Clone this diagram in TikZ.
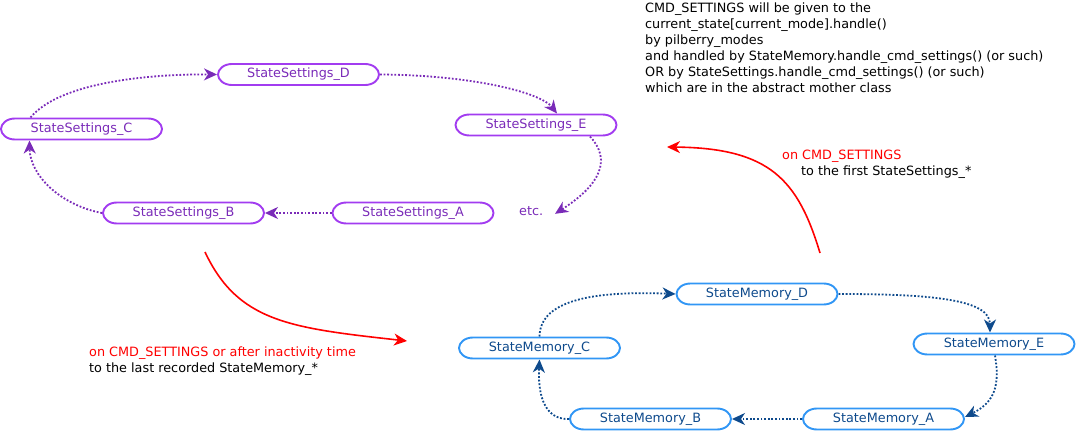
\documentclass[tikz,border=0pt]{standalone}
\usepackage{fontspec}
\setmainfont{DejaVu Sans}
\usetikzlibrary{arrows.meta,calc}
\definecolor{pborder}{HTML}{A23CF0}
\definecolor{ptext}{HTML}{7A2BB8}
\definecolor{bborder}{HTML}{3196F5}
\definecolor{btext}{HTML}{0E4A8C}
\tikzset{
  txt/.style={font=\fontsize{12.8}{16}\selectfont, inner sep=0pt},
  boxbase/.style={inner sep=0pt, outer sep=1pt, minimum width=161pt, minimum height=21pt,
     font=\fontsize{12.8}{15}\selectfont},
  sbox/.style={boxbase, text=ptext},
  mbox/.style={boxbase, text=btext},
  outline/.style={line width=1.9pt},
  pedge/.style={draw=ptext, line width=1.8pt, dash pattern=on 1.8pt off 1.8pt,
     -{Stealth[length=13pt,width=12pt,inset=4pt]}},
  bedge/.style={draw=btext, line width=1.8pt, dash pattern=on 1.8pt off 1.8pt,
     -{Stealth[length=13pt,width=12pt,inset=4pt]}},
  redge/.style={draw=red, line width=1.6pt, -{Stealth[length=13pt,width=12pt,inset=4pt]}},
}
% oval outline with elliptical ends around node #1, colour #2
\newcommand\ovaloutline[2]{%
  \draw[outline, draw=#2]
    ($(#1.north west)+(15,1)$) -- ($(#1.north east)+(-15,1)$)
    .. controls ($(#1.north east)+(-6.7,1)$) and ($(#1.east)+(-1,-5.3)$) .. ($(#1.east)+(-1,0)$)
    .. controls ($(#1.east)+(-1,5.3)$) and ($(#1.south east)+(-6.7,-1)$) .. ($(#1.south east)+(-15,-1)$)
    -- ($(#1.south west)+(15,-1)$)
    .. controls ($(#1.south west)+(6.7,-1)$) and ($(#1.west)+(1,5.3)$) .. ($(#1.west)+(1,0)$)
    .. controls ($(#1.west)+(1,-5.3)$) and ($(#1.north west)+(6.7,1)$) .. cycle;}
\begin{document}
\begin{tikzpicture}[x=1pt,y=-1pt]
\useasboundingbox (0,0) rectangle (1077,433);

% purple nodes
\node[sbox] (sD) at (298.5,74.5) {StateSettings\_D};
\node[sbox] (sC) at (81.5,129) {StateSettings\_C};
\node[sbox] (sE) at (536,125) {StateSettings\_E};
\node[sbox] (sB) at (183.5,213) {StateSettings\_B};
\node[sbox] (sA) at (413,213) {StateSettings\_A};
\node[txt, text=ptext, anchor=base west] (etc) at (519,215) {etc.};
\foreach \n in {sD,sC,sE,sB,sA} {\ovaloutline{\n}{pborder}}

% blue nodes
\node[mbox] (mD) at (757,294) {StateMemory\_D};
\node[mbox] (mC) at (539.5,348) {StateMemory\_C};
\node[mbox] (mE) at (994,344) {StateMemory\_E};
\node[mbox] (mB) at (650.5,419) {StateMemory\_B};
\node[mbox] (mA) at (883.5,419) {StateMemory\_A};
\foreach \n in {mD,mC,mE,mB,mA} {\ovaloutline{\n}{bborder}}

% purple edges
\draw[pedge] ([xshift=-51pt]sC.north) .. controls (60,82) and (150,74) .. (sD.west);
\draw[pedge] (sD.east) .. controls (470,75) and (540,92) .. ([xshift=21pt]sE.north);
\draw[pedge] ([xshift=54pt]sE.south) .. controls (612,160) and (600,185) .. ([xshift=36pt,yshift=-8pt]etc.north west);
\draw[pedge] (sA.west) -- (sB.east);
\draw[pedge] (sB.west) .. controls (60,205) and (30,175) .. ([xshift=-52pt]sC.south);

% blue edges
\draw[bedge] (mC.north) .. controls (540,298) and (600,291) .. (mD.west);
\draw[bedge] (mD.east) .. controls (935,294) and (990,300) .. ([xshift=-4pt]mE.north);
\draw[bedge] ([xshift=1pt]mE.south) .. controls (1000,385) and (995,402) .. ([yshift=2pt]mA.east);
\draw[bedge] (mA.west) -- (mB.east);
\draw[bedge] (mB.west) .. controls (542,420) and (538,390) .. (mC.south);

% red arrows
\coordinate (r1s) at (205,252);
\coordinate (r1e) at (407,341);
\coordinate (r2s) at (820,253);
\coordinate (r2e) at (667,147);
\draw[redge] (r1s) .. controls (238,322) and (290,328) .. (r1e);
\draw[redge] (r2s) .. controls (798,180) and (770,148) .. (r2e);

% texts
\node[txt, anchor=north west, align=left] (note) at (645,2.3)
 {CMD\_SETTINGS will be given to the\\
  current\_state[current\_mode].handle()\\
  by pilberry\_modes\\
  and handled by StateMemory.handle\_cmd\_settings() (or such)\\
  OR by StateSettings.handle\_cmd\_settings() (or such)\\
  which are in the abstract mother class};

\node[txt, text=red, anchor=base west] (l1a) at (89,356) {on CMD\_SETTINGS or after inactivity time};
\node[txt, anchor=base west] (l1b) at (89,372) {to the last recorded StateMemory\_*};
\node[txt, text=red, anchor=base west] (l2a) at (782,160) {on CMD\_SETTINGS};
\node[txt, anchor=base west] (l2b) at (801,176) {to the first StateSettings\_*};
\end{tikzpicture}
\end{document}
